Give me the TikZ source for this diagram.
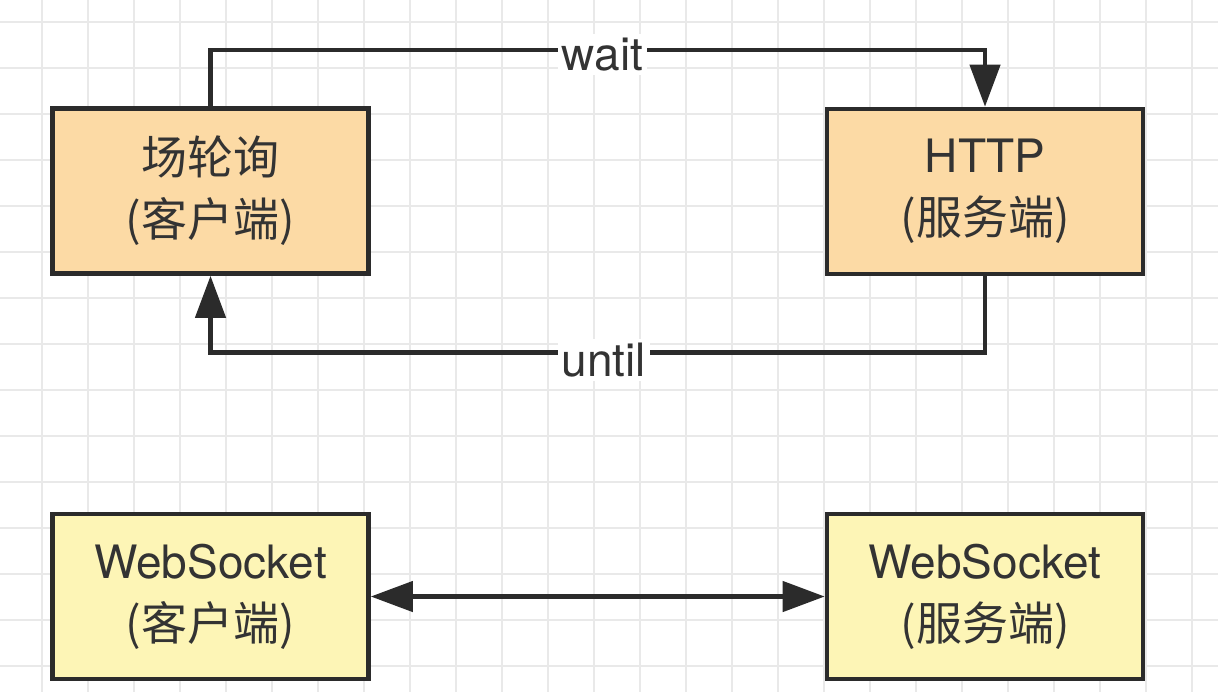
\documentclass[tikz,border=0pt]{standalone}
\usepackage{fontspec}
\setmainfont{TeX Gyre Heros}
\newfontfamily\cjk{Noto Sans CJK SC}
\usepackage{tikz}
\usetikzlibrary{positioning,arrows.meta,calc}
\definecolor{ink}     {HTML}{2B2B2B}
\definecolor{textink} {HTML}{333333}
\definecolor{gridline}{HTML}{E9E9E9}
\definecolor{peach}   {HTML}{FCDAA5}
\definecolor{lemon}   {HTML}{FDF5B6}
\tikzset{
  >={Triangle[length=21pt,width=15pt]},
  every node/.style={font=\fontsize{23}{31}\selectfont, text=textink},
  % --- nodes
  mod/.style    = {draw=ink, line width=2.3pt, align=center, inner sep=0pt,
                   minimum width=158pt, minimum height=82.5pt},
  httpbox/.style= {mod, fill=peach},
  wsbox/.style  = {mod, fill=lemon},
  lbl/.style    = {fill=white, inner sep=2pt},
  % --- edges
  e/.style      = {->, draw=ink, line width=2.2pt},
  ee/.style     = {<->, draw=ink, line width=2.2pt},
}
\begin{document}
\begin{tikzpicture}[x=0.5pt,y=-0.5pt]
  \useasboundingbox (0,0) rectangle (1218,692);
  \fill[white] (0,0) rectangle (1218,692);
  % grid
  \foreach \x in {0,...,25}
    \draw[gridline, line width=1pt] ({42+46*\x},0) -- ({42+46*\x},692);
  \foreach \y in {0,...,14}
    \draw[gridline, line width=1pt] (0,{22+46*\y}) -- (1218,{22+46*\y});
  % boxes
  \node[httpbox] (poll) at (210.5,191)   {{\cjk 场轮询}\\{\cjk (客户端)}};
  \node[httpbox] (hs)   at (985,191.5)   {HTTP\\{\cjk (服务端)}};
  \node[wsbox]   (wsc)  at (210.5,596.5) {WebSocket\\{\cjk (客户端)}};
  \node[wsbox]   (wss)  at (985,596.5)   {WebSocket\\{\cjk (服务端)}};
  % connectors
  \draw[e] (poll.north) -- ++(0,-56) -| node[pos=0.253,lbl,yshift=-2pt] {wait} (hs.north);
  \draw[e] (hs.south) -- ++(0,76) -| node[pos=0.246,lbl,yshift=-4pt] {until} (poll.south);
  \draw[ee] (wsc) -- (wss);
\end{tikzpicture}
\end{document}
